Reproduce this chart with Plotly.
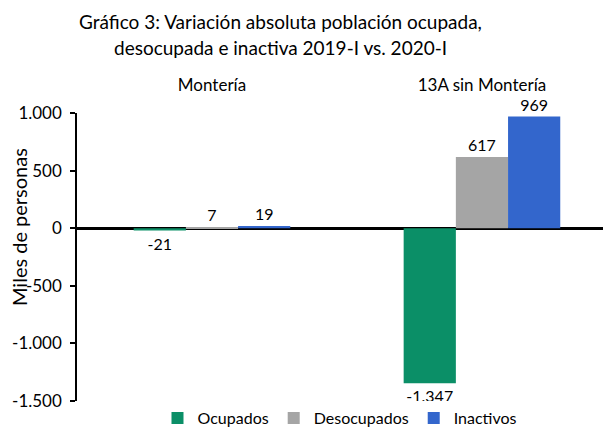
import plotly.graph_objects as go

categories = ["Montería", "13A sin Montería"]
series_names = ["Ocupados", "Desocupados", "Inactivos"]
ocupados = [-21, -1347]
desocupados = [7, 617]
inactivos = [19, 969]
tick_vals = [1000, 500, 0, -500, -1000, -1500]
tick_text = ["1.000", "500", "0", "-500", "-1.000", "-1.500"]
title_lines = ["Gráfico 3: Variación absoluta población ocupada,",
               "desocupada e inactiva 2019-I vs. 2020-I"]
y_title = "Miles de personas"

colors = ["#0b8f67", "#a5a5a5", "#3366cc"]
FONT = "Lato, 'Open Sans', sans-serif"


def fmt(v):
    return f"{v:,}".replace(",", ".")


fig = go.Figure()
for name, vals, col in zip(series_names, [ocupados, desocupados, inactivos], colors):
    fig.add_trace(go.Bar(
        name=name, x=categories, y=vals,
        marker=dict(color=col, line=dict(width=0)),
        text=[fmt(v) for v in vals], textposition="outside",
        textfont=dict(size=16, color="#000000", family=FONT),
        cliponaxis=False,
    ))

annotations = [
    dict(text=title_lines[0], xref="paper", yref="paper", x=0.382, y=1.319,
         xanchor="center", yanchor="middle", showarrow=False,
         font=dict(size=19, family=FONT, color="#000000")),
    dict(text=title_lines[1], xref="paper", yref="paper", x=0.382, y=1.2257,
         xanchor="center", yanchor="middle", showarrow=False,
         font=dict(size=19, family=FONT, color="#000000")),
    dict(text=y_title, xref="paper", yref="paper", x=-0.1086, y=0.604,
         xanchor="center", yanchor="middle", showarrow=False, textangle=-90,
         font=dict(size=20, family=FONT, color="#000000")),
]

# the page body has an 8px default margin, so the figure is sized to fit the window
fig.update_layout(
    width=603, height=421,
    margin=dict(l=69, r=0, t=105, b=28),
    paper_bgcolor="white", plot_bgcolor="white",
    font=dict(family=FONT, size=17, color="#000000"),
    annotations=annotations,
    barmode="group", bargap=0.42, bargroupgap=0,
    showlegend=True,
    legend=dict(
        orientation="h", x=0.4925, xanchor="center",
        yref="container", y=0.026, yanchor="middle",
        font=dict(size=16, family=FONT), itemwidth=30, traceorder="normal",
    ),
    xaxis=dict(
        side="top", showline=False, ticks="", showgrid=False, automargin=False,
        range=[-0.5, 1.478],
        tickfont=dict(size=17, family=FONT), ticklabelstandoff=18,
    ),
    yaxis=dict(
        range=[-1500, 1000], tickvals=tick_vals, ticktext=tick_text, automargin=False,
        showline=True, linecolor="#000000", linewidth=1.5,
        ticks="outside", ticklen=5, tickcolor="#000000", tickwidth=1.5,
        showgrid=False, zeroline=True, zerolinecolor="#000000", zerolinewidth=2.5,
        tickfont=dict(size=17, family=FONT), ticklabelstandoff=5,
    ),
)

fig.write_html("out.html")
